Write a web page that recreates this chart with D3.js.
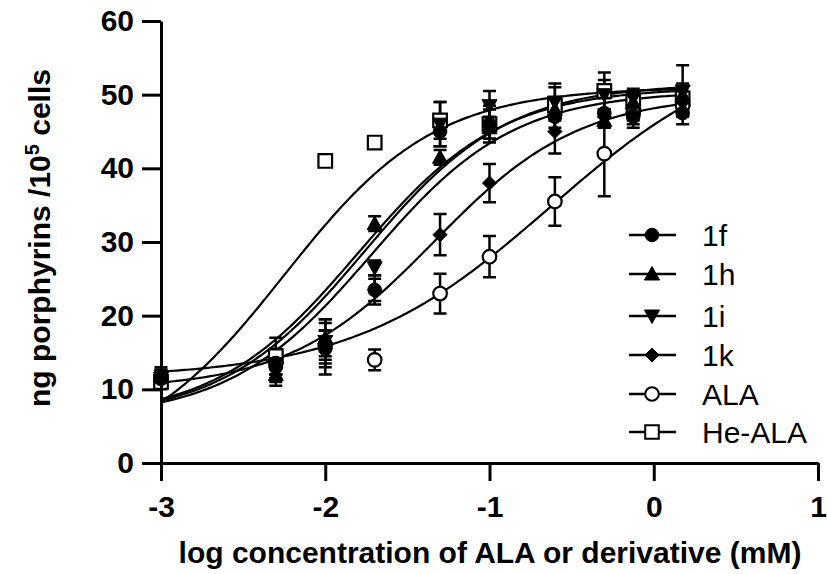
<!DOCTYPE html>
<html>
<head>
<meta charset="utf-8">
<script src="https://cdn.jsdelivr.net/npm/d3@7"></script>
<style>
  body { margin: 0; background: #fff; }
  text { font-family: "Liberation Sans", Arial, sans-serif; }
</style>
</head>
<body>
<div id="chartDiv"></div>
<script>
// log concentrations (mM)
var logConc = [-3, -2.301, -2, -1.699, -1.301, -1, -0.602, -0.301, -0.125, 0.176];

var seriesNames = ["1f", "1h", "1i", "1k", "ALA", "He-ALA"];

var mean_1f  = [11.5, 13, 15.5, 23.5, 45, 46, 47, 47.5, 47, 47.5];
var sem_1f   = [1.2, 2.5, 3.5, 2, 2, 2.5, 2, 2, 1.5, 1.5];
var mean_1h  = [12, 12, 17, 32.5, 41.5, 45.5, 48, 46.5, 49, 50];
var sem_1h   = [1, 1, 2.5, 1, 1, 1.5, 1.5, 1, 1, 1.5];
var mean_1i  = [11.5, 13.5, 16.5, 26.5, 46, 48.5, 49, 50, 49.5, 50.5];
var sem_1i   = [1, 1.5, 3, 1, 3, 2, 2, 2, 1, 3.5];
var mean_1k  = [11.5, 13, 15.5, 23.5, 31, 38, 45, 47, 47.5, 49];
var sem_1k   = [1, 1.5, 2.5, 1.5, 2.8, 2.6, 3, 1, 1, 1.5];
var mean_ALA = [11.5, 13.5, 16, 14, 23, 28, 35.5, 42, 47.5, 48.5];
var sem_ALA  = [1, 1.5, 2, 1.4, 2.7, 2.8, 3.3, 5.8, 1.5, 1.5];
var mean_He  = [11, 14.5, 41, 43.5, 46.5, 46, 48.5, 50.5, 49, 49.5];
var sem_He   = [1, 2.5, 0, 0, 2.5, 2, 3, 2.5, 1.8, 1.5];

// fitted sigmoid parameters: bottom, top, logEC50, hill
var fit_1f  = [6, 50.5, -1.72, 1.0];
var fit_1h  = [6, 51, -1.80, 1.0];
var fit_1i  = [6, 51.5, -1.76, 1.0];
var fit_1k  = [10, 50, -1.34, 0.98];
var fit_ALA = [11.5, 58, -0.63, 0.72];
var fit_He  = [0, 51, -2.25, 0.95];

var xTicks = [-3, -2, -1, 0, 1];
var yTicks = [0, 10, 20, 30, 40, 50, 60];

var series = [
  {name: "1f", mean: mean_1f, sem: sem_1f, fit: fit_1f, shape: "circle", open: false},
  {name: "1h", mean: mean_1h, sem: sem_1h, fit: fit_1h, shape: "triUp", open: false},
  {name: "1i", mean: mean_1i, sem: sem_1i, fit: fit_1i, shape: "triDown", open: false},
  {name: "1k", mean: mean_1k, sem: sem_1k, fit: fit_1k, shape: "diamond", open: false},
  {name: "ALA", mean: mean_ALA, sem: sem_ALA, fit: fit_ALA, shape: "circle", open: true},
  {name: "He-ALA", mean: mean_He, sem: sem_He, fit: fit_He, shape: "square", open: true}
];

var svg = d3.select("#chartDiv").append("svg")
    .attr("width", 827)
    .attr("height", 574);

var x_scale = d3.scaleLinear().domain([-3, 1]).range([161, 818]);
var y_scale = d3.scaleLinear().domain([0, 60]).range([463, 21]);

function markerPath(shape) {
  switch (shape) {
    case "circle": return "M-6.8,0A6.8,6.8 0 1,1 6.8,0A6.8,6.8 0 1,1 -6.8,0Z";
    case "triUp": return "M0,-7.5L7.5,6L-7.5,6Z";
    case "triDown": return "M0,7.5L7.5,-6L-7.5,-6Z";
    case "diamond": return "M0,-7L7,0L0,7L-7,0Z";
    case "square": return "M-6.8,-6.8H6.8V6.8H-6.8Z";
  }
}

function sigmoid(p, x) {
  return p[0] + (p[1] - p[0]) / (1 + Math.pow(10, (p[2] - x) * p[3]));
}

// fitted curves
var curveXs = d3.range(0, 201).map(function(i){ return -3 + i * (0.176 + 3) / 200; });
var line = d3.line()
    .x(function(d){ return x_scale(d[0]); })
    .y(function(d){ return y_scale(d[1]); });

svg.append("g").selectAll("path").data(series).enter()
  .append("path")
  .attr("d", function(s){ return line(curveXs.map(function(x){ return [x, sigmoid(s.fit, x)]; })); })
  .attr("fill", "none")
  .attr("stroke", "#000")
  .attr("stroke-width", 2.2);

// error bars
var capW = 6.5;
var eb = svg.append("g").attr("stroke", "#000").attr("stroke-width", 2.5).attr("fill", "none");
series.forEach(function(s){
  logConc.forEach(function(x, i){
    if (!s.sem[i]) return;
    var cx = x_scale(x), y1 = y_scale(s.mean[i] + s.sem[i]), y2 = y_scale(s.mean[i] - s.sem[i]);
    eb.append("path").attr("d",
      "M" + cx + "," + y1 + "V" + y2 +
      "M" + (cx - capW) + "," + y1 + "H" + (cx + capW) +
      "M" + (cx - capW) + "," + y2 + "H" + (cx + capW));
  });
});

// markers: open first, filled on top
var drawOrder = [series[5], series[4], series[3], series[2], series[1], series[0]];
drawOrder.forEach(function(s){
  svg.append("g").selectAll("path").data(s.mean).enter()
    .append("path")
    .attr("transform", function(d, i){ return "translate(" + x_scale(logConc[i]) + "," + y_scale(d) + ")"; })
    .attr("d", markerPath(s.shape))
    .attr("fill", s.open ? "#fff" : "#000")
    .attr("stroke", "#000")
    .attr("stroke-width", s.open ? 2.2 : 1);
});

// axes
var yAxis = d3.axisLeft(y_scale).tickValues(yTicks).tickSize(19).tickSizeOuter(0).tickPadding(8);
var xAxis = d3.axisBottom(x_scale).tickValues(xTicks).tickSize(18).tickSizeOuter(0).tickPadding(15)
    .tickFormat(d3.format("d"));

var yGroup = svg.append("g").attr("transform", "translate(161,0)").call(yAxis);
var xGroup = svg.append("g").attr("transform", "translate(0,463)").call(xAxis);

[yGroup, xGroup].forEach(function(g){
  g.selectAll(".domain, line").attr("stroke", "#000").attr("stroke-width", 3);
  g.selectAll("text").attr("fill", "#000").style("font-size", "30px").style("font-weight", "bold");
});
xGroup.selectAll("text").text(function(d){ return d < 0 ? "-" + Math.abs(d) : d; });

// axis titles
svg.append("text")
  .attr("x", 490).attr("y", 563)
  .attr("text-anchor", "middle")
  .style("font-size", "30px").style("font-weight", "bold")
  .text("log concentration of ALA or derivative (mM)");

var yt = svg.append("text")
  .attr("transform", "translate(50,238) rotate(-90)")
  .attr("text-anchor", "middle")
  .style("font-size", "30px").style("font-weight", "bold");
yt.append("tspan").text("ng porphyrins /10");
yt.append("tspan").attr("baseline-shift", "super").style("font-size", "20px").text("5");
yt.append("tspan").text(" cells");

// legend
var legendY = [235, 274, 316, 355, 394, 432];
var legend = svg.append("g");
series.forEach(function(s, i){
  var g = legend.append("g").attr("transform", "translate(0," + legendY[i] + ")");
  g.append("line").attr("x1", 629).attr("x2", 676).attr("stroke", "#000").attr("stroke-width", 2.4);
  g.append("path").attr("transform", "translate(652,0)")
    .attr("d", markerPath(s.shape))
    .attr("fill", s.open ? "#fff" : "#000")
    .attr("stroke", "#000").attr("stroke-width", s.open ? 2 : 1);
  g.append("text").attr("x", 702).attr("y", 11)
    .style("font-size", "30px")
    .text(s.name);
});
</script>
</body>
</html>
